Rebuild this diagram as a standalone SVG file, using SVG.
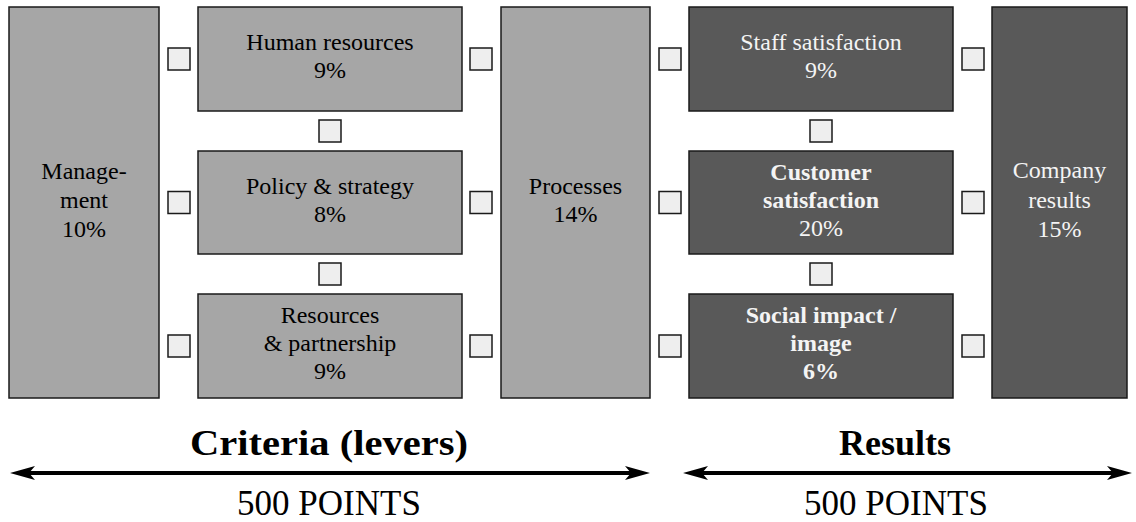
<svg xmlns="http://www.w3.org/2000/svg" width="1136" height="522" viewBox="0 0 1136 522" font-family="'Liberation Serif', 'Times New Roman', serif">
  <style>
    .light { fill: #a6a6a6; stroke: #1a1a1a; stroke-width: 1.5; }
    .dark { fill: #595959; stroke: #1a1a1a; stroke-width: 1.5; }
    .sq { fill: #eeeeee; stroke: #1a1a1a; stroke-width: 1.5; }
    text { font-family: "Liberation Serif", "Times New Roman", serif; text-anchor: middle; }
    .t { font-size: 24px; fill: #000; }
    .tw { font-size: 24px; fill: #f4f4f4; }
    .b { font-weight: bold; }
    .head { font-size: 36px; font-weight: bold; fill: #000; }
    .pts { font-size: 35px; fill: #000; }
    .arrow { stroke: #000; stroke-width: 4; fill: none; marker-end: url(#tip); marker-start: url(#tip); }
  </style>
  <defs>
    <marker id="tip" markerUnits="userSpaceOnUse" markerWidth="26" markerHeight="16" viewBox="0 0 26 16" refX="12" refY="8" orient="auto-start-reverse">
      <path d="M0,1 L25,8 L0,15 L6,8 Z" fill="#000"/>
    </marker>
  </defs>

  <!-- criteria (levers) -->
  <g id="management">
    <rect class="light" x="9" y="7" width="150" height="391"/>
    <text class="t" x="84" y="179">Manage-</text>
    <text class="t" x="84" y="208">ment</text>
    <text class="t" x="84" y="237">10%</text>
  </g>
  <g id="human-resources">
    <rect class="light" x="198" y="7" width="264" height="104"/>
    <text class="t" x="330" y="50">Human resources</text>
    <text class="t" x="330" y="78">9%</text>
  </g>
  <g id="policy-strategy">
    <rect class="light" x="198" y="151" width="264" height="103"/>
    <text class="t" x="330" y="194">Policy &amp; strategy</text>
    <text class="t" x="330" y="222">8%</text>
  </g>
  <g id="resources-partnership">
    <rect class="light" x="198" y="294" width="264" height="104"/>
    <text class="t" x="330" y="323">Resources</text>
    <text class="t" x="330" y="351">&amp; partnership</text>
    <text class="t" x="330" y="379">9%</text>
  </g>
  <g id="processes">
    <rect class="light" x="501" y="7" width="149" height="391"/>
    <text class="t" x="575.5" y="194">Processes</text>
    <text class="t" x="575.5" y="222">14%</text>
  </g>

  <!-- results -->
  <g id="staff-satisfaction">
    <rect class="dark" x="689" y="7" width="264" height="104"/>
    <text class="tw" x="821" y="50">Staff satisfaction</text>
    <text class="tw" x="821" y="78">9%</text>
  </g>
  <g id="customer-satisfaction">
    <rect class="dark" x="689" y="151" width="264" height="103"/>
    <text class="tw b" x="821" y="180">Customer</text>
    <text class="tw b" x="821" y="208">satisfaction</text>
    <text class="tw" x="821" y="236">20%</text>
  </g>
  <g id="social-impact">
    <rect class="dark" x="689" y="294" width="264" height="104"/>
    <text class="tw b" x="821" y="323">Social impact /</text>
    <text class="tw b" x="821" y="351">image</text>
    <text class="tw b" x="821" y="379">6%</text>
  </g>
  <g id="company-results">
    <rect class="dark" x="992" y="7" width="135" height="391"/>
    <text class="tw" x="1059.5" y="178">Company</text>
    <text class="tw" x="1059.5" y="208">results</text>
    <text class="tw" x="1059.5" y="237">15%</text>
  </g>

  <!-- small link squares between boxes -->
  <g id="junctions">
    <rect class="sq" x="168" y="48" width="22" height="22"/>
    <rect class="sq" x="168" y="191.5" width="22" height="22"/>
    <rect class="sq" x="168" y="335" width="22" height="22"/>
    <rect class="sq" x="470" y="48" width="22" height="22"/>
    <rect class="sq" x="470" y="191.5" width="22" height="22"/>
    <rect class="sq" x="470" y="335" width="22" height="22"/>
    <rect class="sq" x="659" y="48" width="22" height="22"/>
    <rect class="sq" x="659" y="191.5" width="22" height="22"/>
    <rect class="sq" x="659" y="335" width="22" height="22"/>
    <rect class="sq" x="962" y="48" width="22" height="22"/>
    <rect class="sq" x="962" y="191.5" width="22" height="22"/>
    <rect class="sq" x="962" y="335" width="22" height="22"/>
    <rect class="sq" x="319" y="120" width="22" height="22"/>
    <rect class="sq" x="319" y="263" width="22" height="22"/>
    <rect class="sq" x="810" y="120" width="22" height="22"/>
    <rect class="sq" x="810" y="263" width="22" height="22"/>
  </g>

  <!-- span arrows -->
  <g id="connectors">
    <line class="arrow" x1="23" y1="473" x2="637" y2="473"/>
    <line class="arrow" x1="696" y1="473" x2="1119" y2="473"/>
  </g>

  <g id="labels">
    <text class="head" x="329" y="455" textLength="278" lengthAdjust="spacingAndGlyphs">Criteria (levers)</text>
    <text class="head" x="895" y="455">Results</text>
    <text class="pts" x="329" y="515">500 POINTS</text>
    <text class="pts" x="896" y="515">500 POINTS</text>
  </g>
</svg>
